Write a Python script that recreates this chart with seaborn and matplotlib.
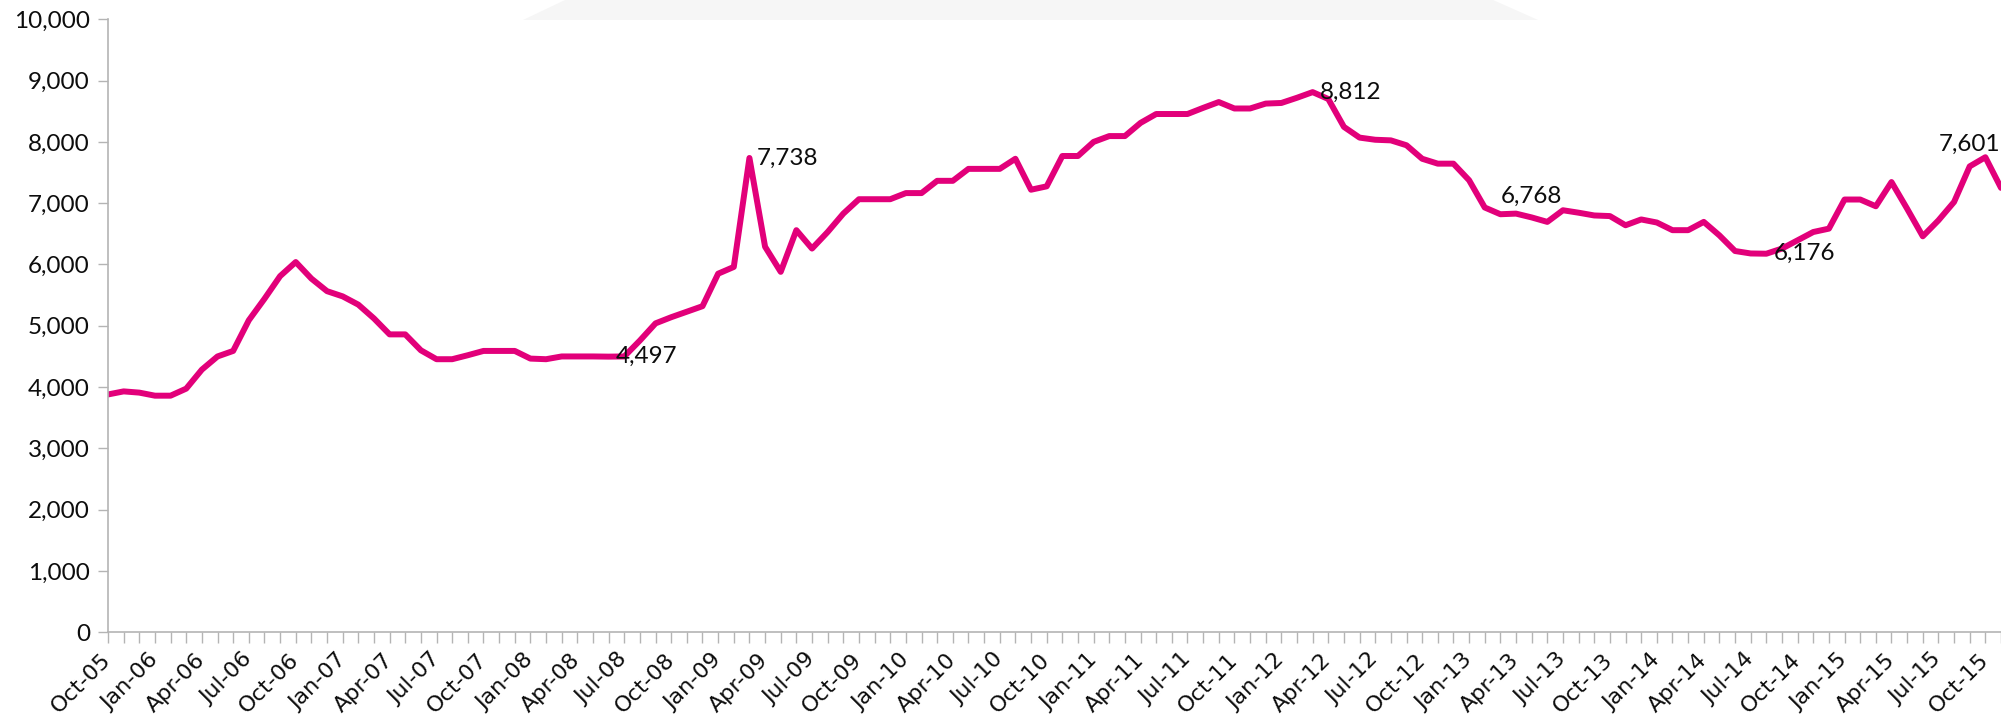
import numpy as np
import pandas as pd
import matplotlib
matplotlib.use("Agg")
import matplotlib.pyplot as plt
from matplotlib.patches import Polygon
import seaborn as sns

# Monthly series, Oct-2005 onwards
months = pd.date_range("2005-10-01", periods=122, freq="MS")
values = [
    3880, 3930, 3910, 3860, 3860, 3975, 4285, 4500, 4590, 5090,
    5440, 5810, 6040, 5770, 5565, 5480, 5345, 5120, 4860, 4860,
    4600, 4455, 4455, 4520, 4590, 4590, 4590, 4465, 4455, 4500,
    4500, 4500, 4497, 4500, 4760, 5040, 5140, 5230, 5320, 5850,
    5960, 7738, 6290, 5880, 6560, 6260, 6530, 6830, 7065, 7065,
    7065, 7165, 7165, 7365, 7365, 7560, 7560, 7560, 7725, 7220,
    7275, 7770, 7770, 8000, 8095, 8095, 8310, 8455, 8455, 8455,
    8555, 8650, 8545, 8545, 8625, 8635, 8720, 8812, 8700, 8245,
    8070, 8035, 8025, 7945, 7725, 7645, 7645, 7375, 6930, 6820,
    6830, 6768, 6695, 6885, 6845, 6800, 6790, 6640, 6735, 6685,
    6560, 6560, 6695, 6475, 6220, 6180, 6176, 6260, 6395, 6530,
    6585, 7060, 7060, 6950, 7345, 6910, 6460, 6720, 7020, 7601,
    7750, 7250,
]
tick_labels = [m.strftime("%b-%y") for m in months]

# Annotated points: (month index, placement)
labelled_right = [32, 41, 77, 106]
labelled_above = [91, 119]

y_ticks = [0, 1000, 2000, 3000, 4000, 5000, 6000, 7000, 8000, 9000, 10000]

LINE = "#E2007A"
AXIS = "#B4B4B4"
TEXT = "#0D0D0D"

sns.set_theme(style="white")
plt.rcParams["font.family"] = ["Lato", "DejaVu Sans"]

W, H = 2001, 718
fig = plt.figure(figsize=(W / 100, H / 100), dpi=100)
fig.patch.set_facecolor("white")

# faint banner shape along the top edge
band = Polygon([(523 / W, 1 - 20 / H), (565 / W, 1.0), (1493 / W, 1.0), (1538 / W, 1 - 20 / H)],
               closed=True, transform=fig.transFigure, facecolor="#F6F6F6",
               edgecolor="none", zorder=0)
fig.patches.append(band)

left, right = 108, W
top, bottom = 19.3, 632.3
ax = fig.add_axes([left / W, 1 - bottom / H, (right - left) / W, (bottom - top) / H])
ax.set_facecolor("none")

df = pd.DataFrame({"idx": np.arange(len(values)), "value": values})
sns.lineplot(data=df, x="idx", y="value", ax=ax, color=LINE, linewidth=4.3,
             solid_joinstyle="round", solid_capstyle="round")

month_px = 15.75
ax.set_xlim(0, (right - left) / month_px)
ax.set_ylim(0, 10000)

ax.set_xticks(np.arange(len(values)))
ax.set_xticklabels([lab if i % 3 == 0 else "" for i, lab in enumerate(tick_labels)],
                   rotation=45, ha="right", va="center", rotation_mode="anchor",
                   fontsize=16, family="DejaVu Sans", color=TEXT)
ax.set_yticks(y_ticks)
ax.set_yticklabels([f"{v:,}" for v in y_ticks], fontsize=17.5, color=TEXT)

ax.set_xlabel("")
ax.set_ylabel("")
for s in ["top", "right"]:
    ax.spines[s].set_visible(False)
for s in ["left", "bottom"]:
    ax.spines[s].set_color(AXIS)
    ax.spines[s].set_linewidth(1.2)

ax.tick_params(axis="x", direction="out", length=8, width=1, color=AXIS, pad=9.5,
               bottom=True)
ax.tick_params(axis="y", direction="out", length=7, width=1, color=AXIS, pad=6,
               left=True)
ax.grid(False)

for i in labelled_right:
    ax.annotate(f"{values[i]:,}", (i, values[i]), xytext=(5, 0), textcoords="offset points",
                ha="left", va="center", fontsize=17.5, color=TEXT, annotation_clip=False)
for i in labelled_above:
    ax.annotate(f"{values[i]:,}", (i, values[i]), xytext=(0, 15.5), textcoords="offset points",
                ha="center", va="center", fontsize=17.5, color=TEXT, annotation_clip=False)

fig.savefig("out.png", dpi=100, facecolor="white")
